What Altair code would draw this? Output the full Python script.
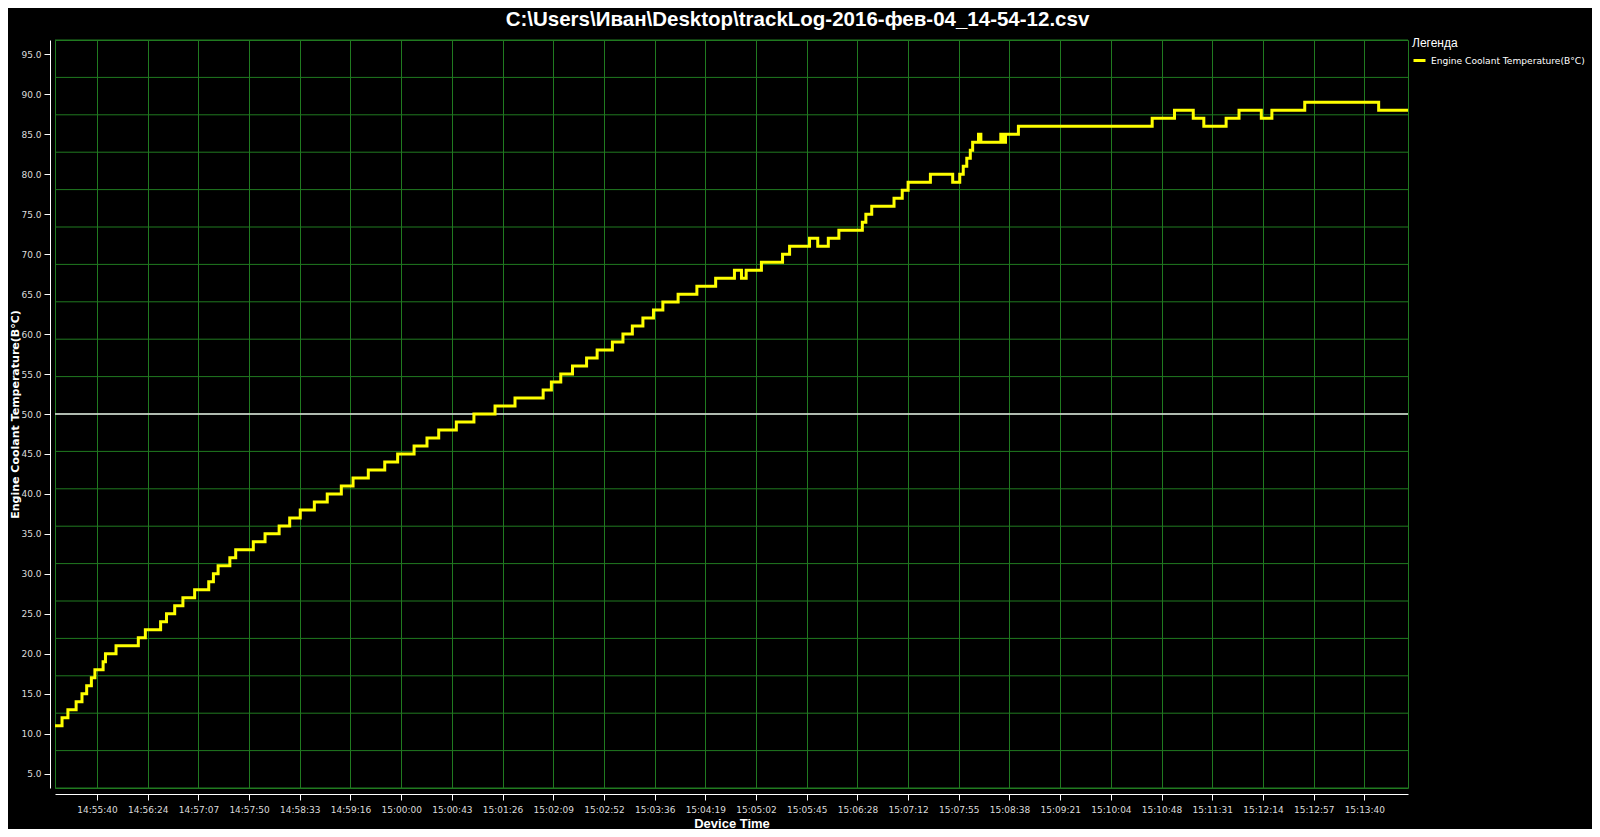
import altair as alt
import pandas as pd

TITLE = "C:\\Users\\Иван\\Desktop\\trackLog-2016-фев-04_14-54-12.csv"
SERIES = "Engine Coolant Temperature(B°C)"
X_TITLE = "Device Time"
LEGEND_TITLE = "Легенда"
DATE = "2016-02-04"

times = [
    "14:55:05", "14:55:11", "14:55:16", "14:55:23", "14:55:28", "14:55:32", "14:55:36", "14:55:39",
    "14:55:46", "14:55:48", "14:55:57", "14:56:16", "14:56:22", "14:56:35", "14:56:40", "14:56:47",
    "14:56:54", "14:57:04", "14:57:16", "14:57:20", "14:57:24", "14:57:34", "14:57:39", "14:57:54",
    "14:58:04", "14:58:16", "14:58:25", "14:58:34", "14:58:46", "14:58:57", "14:59:09", "14:59:19",
    "14:59:32", "14:59:46", "14:59:57", "15:00:11", "15:00:22", "15:00:32", "15:00:47", "15:01:02",
    "15:01:20", "15:01:37", "15:02:01", "15:02:08", "15:02:16", "15:02:26", "15:02:38", "15:02:47",
    "15:03:00", "15:03:09", "15:03:17", "15:03:26", "15:03:35", "15:03:43", "15:03:56", "15:04:12",
    "15:04:28", "15:04:44", "15:04:50", "15:04:54", "15:05:07", "15:05:25", "15:05:31", "15:05:48",
    "15:05:55", "15:06:04", "15:06:13", "15:06:33", "15:06:36", "15:06:41", "15:07:00", "15:07:07",
    "15:07:12", "15:07:31", "15:07:50", "15:07:56", "15:07:59", "15:08:02", "15:08:05", "15:08:07",
    "15:08:12", "15:08:14", "15:08:31", "15:08:33", "15:08:35", "15:08:46", "15:10:40", "15:10:59",
    "15:11:15", "15:11:24", "15:11:43", "15:11:54", "15:12:13", "15:12:22", "15:12:50", "15:13:53",
    "15:14:18",
]
temps = [
    11, 12, 13, 14, 15, 16, 17, 18,
    19, 20, 21, 22, 23, 24, 25, 26,
    27, 28, 29, 30, 31, 32, 33, 34,
    35, 36, 37, 38, 39, 40, 41, 42,
    43, 44, 45, 46, 47, 48, 49, 50,
    51, 52, 53, 54, 55, 56, 57, 58,
    59, 60, 61, 62, 63, 64, 65, 66,
    67, 68, 67, 68, 69, 70, 71, 72,
    71, 72, 73, 74, 75, 76, 77, 78,
    79, 80, 79, 80, 81, 82, 83, 84,
    85, 84, 85, 84, 85, 86, 87, 88,
    87, 86, 87, 88, 87, 88, 89, 88,
    88,
]

x_tick_times = [
    "14:55:40.8", "14:56:24.0", "14:57:07.2", "14:57:50.4", "14:58:33.6", "14:59:16.8",
    "15:00:00.0", "15:00:43.2", "15:01:26.4", "15:02:09.6", "15:02:52.8", "15:03:36.0",
    "15:04:19.2", "15:05:02.4", "15:05:45.6", "15:06:28.8", "15:07:12.0", "15:07:55.2",
    "15:08:38.4", "15:09:21.6", "15:10:04.8", "15:10:48.0", "15:11:31.2", "15:12:14.4",
    "15:12:57.6", "15:13:40.8",
]
y_tick_values = [5, 10, 15, 20, 25, 30, 35, 40, 45, 50, 55, 60, 65, 70, 75, 80, 85, 90, 95]
y_domain = [3.2, 96.8]
reference_level = [50]
h_divisions = list(range(21))

GRID = "#207a20"
YELLOW = "#ffff00"


def to_dt(s):
    h, m, rest = s.split(":")
    sec = float(rest)
    return alt.DateTime(year=2016, month=2, date=4, hours=int(h), minutes=int(m),
                        seconds=int(sec), milliseconds=int(round((sec - int(sec)) * 1000)))


df = pd.DataFrame({
    "time": [f"{DATE}T{t}" for t in times],
    "temp": temps,
    "series": [SERIES] * len(times),
})
ref_df = pd.DataFrame({"level": reference_level})
div_df = pd.DataFrame({"division": h_divisions})

y_axis = alt.Axis(
    values=y_tick_values, format=".1f", orient="left", grid=False, offset=5,
    tickSize=6, labelPadding=3, labelFont="DejaVu Sans", labelFontSize=9,
    labelColor="#dcdcdc", domainColor="white", tickColor="white",
    titleFont="DejaVu Sans", titleFontSize=11, titleFontWeight="bold",
    titleColor="white", titlePadding=0,
)
y_scale = alt.Scale(domain=y_domain, nice=False, zero=False)

x_axis = alt.Axis(
    values=[to_dt(t) for t in x_tick_times], format="%H:%M:%S", grid=True,
    gridColor=GRID, gridOpacity=1, gridWidth=1, offset=6, tickSize=6, labelPadding=5,
    labelFont="DejaVu Sans", labelFontSize=9, labelColor="#dcdcdc",
    labelOverlap=False, labelFlush=False, domainColor="white", tickColor="white",
    titleFont="Liberation Sans", titleFontSize=13, titleFontWeight="bold",
    titleColor="white", titlePadding=3,
)

hgrid = alt.Chart(div_df).mark_rule(color=GRID, strokeWidth=1, opacity=1).encode(
    y=alt.Y("division:Q", scale=alt.Scale(domain=[0, 20], nice=False, zero=False), axis=None)
)

ref_rule = alt.Chart(ref_df).mark_rule(color="#e6e6e6", strokeWidth=1.5).encode(
    y=alt.Y("level:Q", scale=y_scale, axis=y_axis, title=SERIES)
)

line = alt.Chart(df).mark_line(interpolate="step-after", strokeWidth=3).encode(
    x=alt.X("time:T", scale=alt.Scale(nice=False), axis=x_axis, title=X_TITLE),
    y=alt.Y("temp:Q", scale=y_scale, axis=y_axis, title=SERIES),
    color=alt.Color(
        "series:N",
        scale=alt.Scale(range=[YELLOW]),
        legend=alt.Legend(
            title=LEGEND_TITLE, orient="none", legendX=1357, legendY=-2,
            symbolType="stroke", symbolStrokeWidth=3, symbolSize=144,
            labelFont="DejaVu Sans", labelFontSize=9.1, labelColor="white",
            labelOffset=4, labelLimit=0,
            titleFont="Liberation Sans", titleFontSize=12, titleFontWeight="normal",
            titleColor="white", titlePadding=3, padding=0,
        ),
    ),
)

chart = alt.layer(hgrid, alt.layer(ref_rule, line)).resolve_scale(y="independent").properties(
    width=1353,
    height=748,
    autosize=alt.AutoSizeParams(type="none"),
    padding={"left": 47, "top": 32, "right": 184, "bottom": 41},
    background="#000000",
    title=alt.TitleParams(
        text=TITLE, font="Liberation Sans", fontSize=20.5, fontWeight="bold",
        color="white", anchor="middle", frame="bounds", offset=8,
    ),
).configure_view(stroke=GRID, strokeWidth=1, fill="#000000").configure_axis(
    gridColor=GRID, gridOpacity=1
)

chart.save("out.html", embed_options={"renderer": "svg", "actions": False})
